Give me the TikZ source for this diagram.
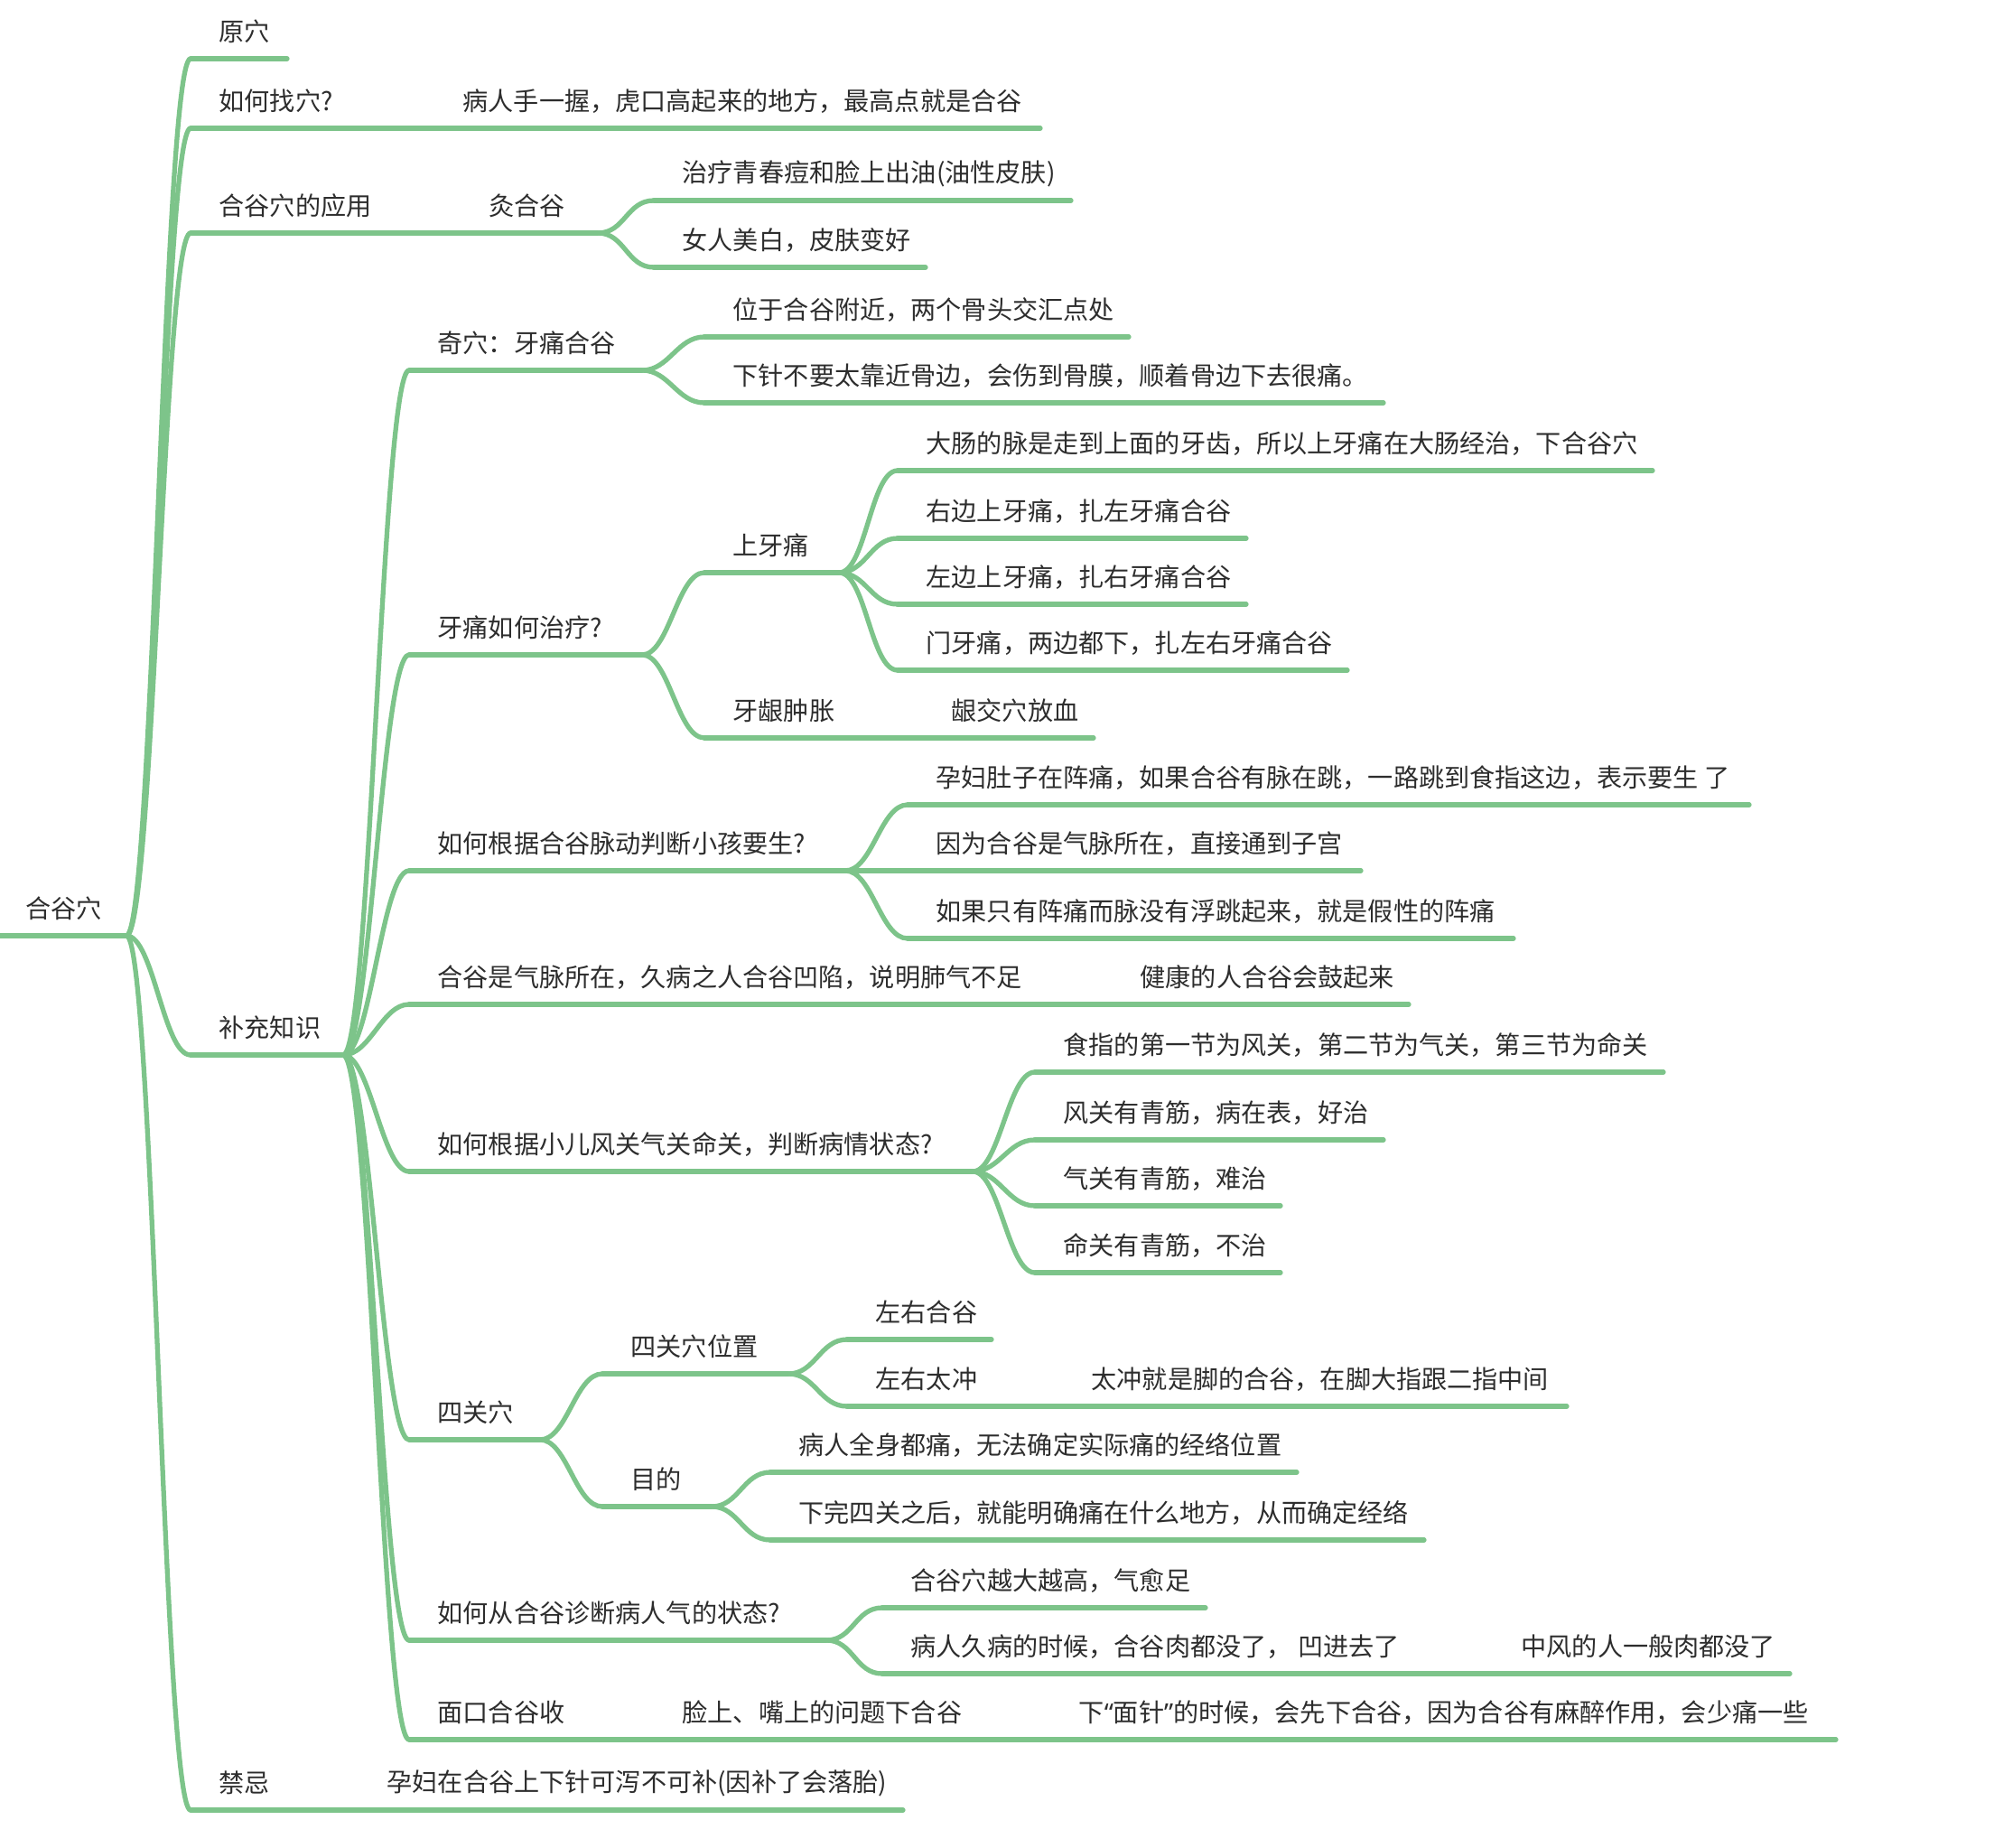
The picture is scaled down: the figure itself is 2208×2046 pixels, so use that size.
\documentclass[tikz,border=0pt]{standalone}
\usepackage{fontspec}
\setmainfont{Noto Sans CJK SC}
\newfontfamily\latinq{Noto Sans}
\usetikzlibrary{calc}

\definecolor{mmgreen}{RGB}{125,196,138}
\definecolor{mmtext}{RGB}{45,45,45}

% topic: name, underline start x, underline y, underline end x, text
\newcommand{\mmtopic}[5]{%
  \coordinate (#1-s) at (#2,#3);
  \coordinate (#1-e) at (#4,#3);
  \draw[branch] (#1-s) -- (#1-e);
  \node[topic] (#1) at ($(#1-s)+(31,-30)$) {#5};
}

\begin{document}
\begin{tikzpicture}[x=0.01cm,y=-0.01cm,
    branch/.style={draw=mmgreen, line width=1.5pt, line cap=round},
    topic/.style={anchor=west, inner sep=0pt, text=mmtext, font=\fontsize{8}{10}\selectfont},
    link/.style={to path={.. controls +(30,0) and +(-30,0) .. (\tikztotarget)}}]

    \useasboundingbox (0,0) rectangle (2208,2046);

    % Radice
    \mmtopic{root}{-3}{1036}{140}{合谷穴}

    % Primo livello
    \mmtopic{yuan}{211}{65}{318}{原穴}
    \mmtopic{zhao}{211}{142}{481}{如何找穴?}
    \mmtopic{zhaoa}{481}{142}{1152}{病人手一握，虎口高起来的地方，最高点就是合谷}
    \mmtopic{yong}{211}{258}{510}{合谷穴的应用}
    \mmtopic{jiu}{510}{258}{662}{灸合谷}
    \mmtopic{qingchun}{724}{222}{1186}{治疗青春痘和脸上出油(油性皮肤)}
    \mmtopic{meibai}{724}{296}{1025}{女人美白，皮肤变好}
    \mmtopic{buchong}{211}{1168}{380}{补充知识}
    \mmtopic{jinji}{211}{2004}{397}{禁忌}
    \mmtopic{jinjia}{397}{2004}{1000}{孕妇在合谷上下针可泻不可补(因补了会落胎)}

    %補充知识
    \mmtopic{qixue}{453}{410}{711}{奇穴：牙痛合谷}
    \mmtopic{weiyu}{780}{373}{1250}{位于合谷附近，两个骨头交汇点处}
    \mmtopic{xiazhen}{780}{446}{1532}{下针不要太靠近骨边，会伤到骨膜，顺着骨边下去很痛。}
    \mmtopic{yatong}{453}{725}{711}{牙痛如何治疗?}
    \mmtopic{shangya}{780}{634}{929}{上牙痛}
    \mmtopic{dachang}{994}{521}{1830}{大肠的脉是走到上面的牙齿，所以上牙痛在大肠经治，下合谷穴}
    \mmtopic{youbian}{994}{596}{1380}{右边上牙痛，扎左牙痛合谷}
    \mmtopic{zuobian}{994}{669}{1380}{左边上牙痛，扎右牙痛合谷}
    \mmtopic{menya}{994}{742}{1492}{门牙痛，两边都下，扎左右牙痛合谷}
    \mmtopic{yayin}{780}{817}{1022}{牙龈肿胀}
    \mmtopic{yinjiao}{1022}{817}{1211}{龈交穴放血}
    \mmtopic{maidong}{453}{964}{936}{如何根据合谷脉动判断小孩要生?}
    \mmtopic{yunfu}{1005}{891}{1937}{孕妇肚子在阵痛，如果合谷有脉在跳，一路跳到食指这边，表示要生 了}
    \mmtopic{yinwei}{1005}{964}{1507}{因为合谷是气脉所在，直接通到子宫}
    \mmtopic{ruguo}{1005}{1039}{1676}{如果只有阵痛而脉没有浮跳起来，就是假性的阵痛}
    \mmtopic{qimai}{453}{1112}{1231}{合谷是气脉所在，久病之人合谷凹陷，说明肺气不足}
    \mmtopic{jiankang}{1231}{1112}{1560}{健康的人合谷会鼓起来}
    \mmtopic{fengguan}{453}{1297}{1077}{如何根据小儿风关气关命关，判断病情状态?}
    \mmtopic{shizhi}{1146}{1187}{1842}{食指的第一节为风关，第二节为气关，第三节为命关}
    \mmtopic{fg}{1146}{1262}{1532}{风关有青筋，病在表，好治}
    \mmtopic{qg}{1146}{1335}{1418}{气关有青筋，难治}
    \mmtopic{mg}{1146}{1409}{1418}{命关有青筋，不治}
    \mmtopic{siguan}{453}{1594}{598}{四关穴}
    \mmtopic{weizhi}{667}{1521}{873}{四关穴位置}
    \mmtopic{zyhg}{938}{1483}{1098}{左右合谷}
    \mmtopic{zytc}{938}{1557}{1177}{左右太冲}
    \mmtopic{taichong}{1177}{1557}{1735}{太冲就是脚的合谷，在脚大指跟二指中间}
    \mmtopic{mudi}{667}{1668}{788}{目的}
    \mmtopic{quanshen}{853}{1630}{1436}{病人全身都痛，无法确定实际痛的经络位置}
    \mmtopic{xiawan}{853}{1705}{1577}{下完四关之后，就能明确痛在什么地方，从而确定经络}
    \mmtopic{zhenduan}{453}{1816}{915}{如何从合谷诊断病人气的状态?}
    \mmtopic{yuedagao}{977}{1780}{1335}{合谷穴越大越高，气愈足}
    \mmtopic{jiubing}{977}{1853}{1653}{病人久病的时候，合谷肉都没了， 凹进去了}
    \mmtopic{zhongfeng}{1653}{1853}{1982}{中风的人一般肉都没了}
    \mmtopic{miankou}{453}{1926}{724}{面口合谷收}
    \mmtopic{lianshang}{724}{1926}{1163}{脸上、嘴上的问题下合谷}
    \mmtopic{mianzhen}{1163}{1926}{2033}{下{\latinq “}面针{\latinq ”}的时候，会先下合谷，因为合谷有麻醉作用，会少痛一些}

    % Rami
    \foreach \c in {yuan,zhao,yong,buchong,jinji}
        \draw[branch] (root-e) to[link] (\c-s);
    \foreach \c in {qingchun,meibai}
        \draw[branch] (jiu-e) to[link] (\c-s);
    \foreach \c in {qixue,yatong,maidong,qimai,fengguan,siguan,zhenduan,miankou}
        \draw[branch] (buchong-e) to[link] (\c-s);
    \foreach \c in {weiyu,xiazhen}
        \draw[branch] (qixue-e) to[link] (\c-s);
    \foreach \c in {shangya,yayin}
        \draw[branch] (yatong-e) to[link] (\c-s);
    \foreach \c in {dachang,youbian,zuobian,menya}
        \draw[branch] (shangya-e) to[link] (\c-s);
    \foreach \c in {yunfu,yinwei,ruguo}
        \draw[branch] (maidong-e) to[link] (\c-s);
    \foreach \c in {shizhi,fg,qg,mg}
        \draw[branch] (fengguan-e) to[link] (\c-s);
    \foreach \c in {weizhi,mudi}
        \draw[branch] (siguan-e) to[link] (\c-s);
    \foreach \c in {zyhg,zytc}
        \draw[branch] (weizhi-e) to[link] (\c-s);
    \foreach \c in {quanshen,xiawan}
        \draw[branch] (mudi-e) to[link] (\c-s);
    \foreach \c in {yuedagao,jiubing}
        \draw[branch] (zhenduan-e) to[link] (\c-s);

\end{tikzpicture}
\end{document}
